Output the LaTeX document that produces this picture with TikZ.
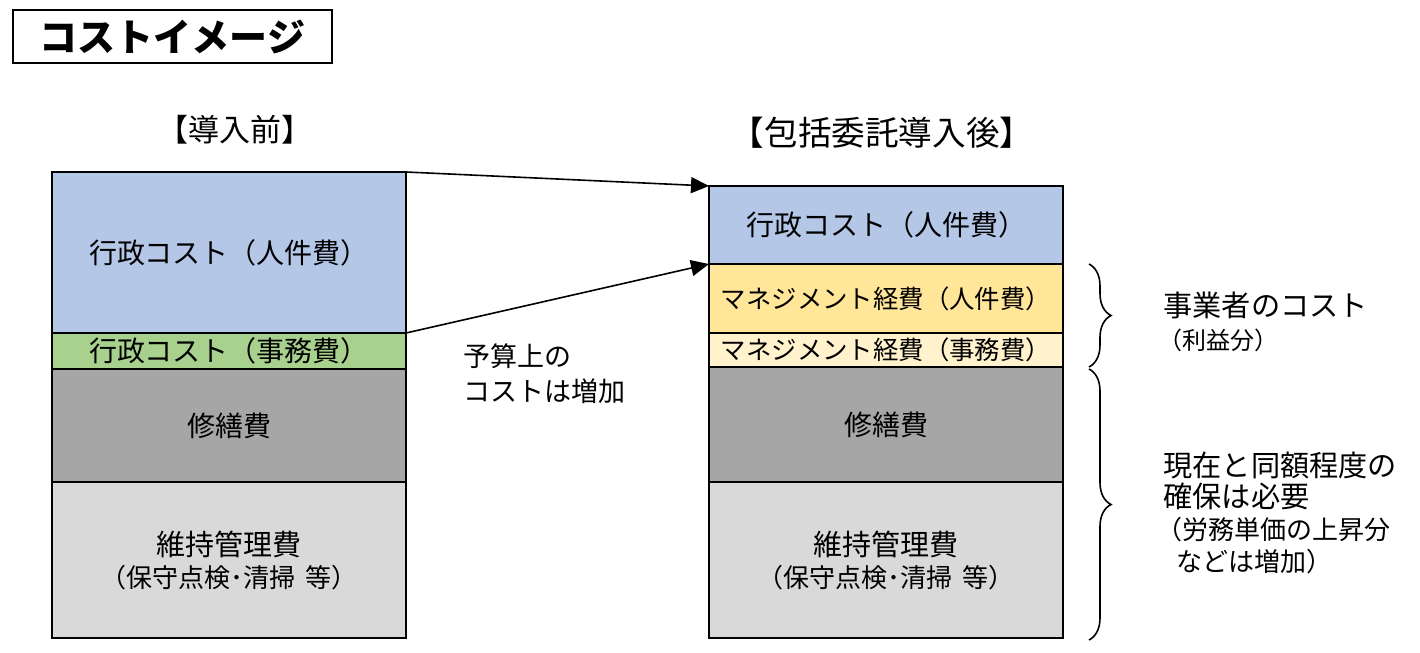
\documentclass[tikz,border=0pt]{standalone}
\usepackage{fontspec}
\setmainfont{Noto Sans CJK JP}
\usetikzlibrary{positioning,arrows.meta,decorations.pathreplacing}

\definecolor{kostblau}{HTML}{B4C7E7}
\definecolor{kostgruen}{HTML}{A9D18E}
\definecolor{kostdunkel}{HTML}{A6A6A6}
\definecolor{kosthell}{HTML}{D9D9D9}
\definecolor{kostgelb}{HTML}{FFE699}
\definecolor{kostcreme}{HTML}{FFF2CC}

\begin{document}
\begin{tikzpicture}[x=0.5pt,y=-0.5pt,
      costbox/.style={rectangle, draw=black, line width=0.8pt, inner sep=0pt, outer sep=0pt, minimum width=177pt, align=center, font=\fontsize{14pt}{16pt}\selectfont},
      pfeil/.style={-{Triangle[length=9pt,width=8pt]}, line width=0.8pt},
      klammer/.style={decorate, decoration={brace, amplitude=11pt}, line width=0.8pt},
      notiz/.style={anchor=west, inner sep=0pt, font=\fontsize{14.6pt}{17pt}\selectfont},
      klein/.style={anchor=west, inner sep=0pt, font=\fontsize{13pt}{15pt}\selectfont}]

\useasboundingbox[fill=white] (0,0) rectangle (1420,653);

\node[draw=black, line width=0.8pt, minimum width=159.5pt, minimum height=26.5pt, font=\bfseries\fontsize{19pt}{22pt}\selectfont] (titel) at (172.5,36.5) {コストイメージ};

\node[font=\fontsize{15.5pt}{18pt}\selectfont] (vorher) at (235,130) {【導入前】};
\node[font=\fontsize{16.8pt}{19pt}\selectfont] (nachher) at (882,133) {【包括委託導入後】};

% before
\node[costbox, anchor=north west, fill=kostblau, minimum height=80.5pt] (lblau) at (52,172) {行政コスト（人件費）};
\node[costbox, below=0pt of lblau, fill=kostgruen, minimum height=18pt] (lgruen) {行政コスト（事務費）};
\node[costbox, below=0pt of lgruen, fill=kostdunkel, minimum height=56.5pt] (ldunkel) {修繕費};
\node[costbox, below=0pt of ldunkel, fill=kosthell, minimum height=78pt, font=\fontsize{14.5pt}{16pt}\selectfont] (lhell) {維持管理費\\{\fontsize{13pt}{14pt}\selectfont （保守点検･清掃\hspace{0.4em}等）}};

% after
\node[costbox, anchor=north west, fill=kostblau, minimum height=39pt] (rblau) at (709,186) {行政コスト（人件費）};
\node[costbox, below=0pt of rblau, fill=kostgelb, minimum height=34.5pt, font=\fontsize{12.7pt}{14pt}\selectfont] (rgelb) {マネジメント経費（人件費）};
\node[costbox, below=0pt of rgelb, fill=kostcreme, minimum height=17pt, font=\fontsize{12.7pt}{14pt}\selectfont] (rcreme) {マネジメント経費（事務費）};
\node[costbox, below=0pt of rcreme, fill=kostdunkel, minimum height=57.5pt] (rdunkel) {修繕費};
\node[costbox, below=0pt of rdunkel, fill=kosthell, minimum height=78pt, font=\fontsize{14.5pt}{16pt}\selectfont] (rhell) {維持管理費\\{\fontsize{13pt}{14pt}\selectfont （保守点検･清掃\hspace{0.4em}等）}};

\draw[pfeil] (lblau.north east) -- (rblau.north west);
\draw[pfeil] (lblau.south east) -- (rblau.south west);

\node[notiz, font=\fontsize{13.5pt}{17.5pt}\selectfont, align=left] (budget) at (463,374) {予算上の\\コストは増加};

% braces
\draw[klammer] ([xshift=13pt]rgelb.north east) -- ([xshift=13pt]rcreme.south east);
\draw[klammer] ([xshift=13pt,yshift=-1pt]rdunkel.north east) -- ([xshift=13pt,yshift=-1pt]rhell.south east);

\node[notiz] (betreiber) at (1163,305) {事業者のコスト};
\node[klein, font=\fontsize{12pt}{14pt}\selectfont] (gewinn) at (1158,340) {（利益分）};
\node[notiz] (gleich1) at (1163,465) {現在と同額程度の};
\node[notiz] (gleich2) at (1163,496) {確保は必要};
\node[klein] (lohn1) at (1156,530) {（労務単価の上昇分};
\node[klein] (lohn2) at (1176,562) {などは増加）};

\end{tikzpicture}
\end{document}
